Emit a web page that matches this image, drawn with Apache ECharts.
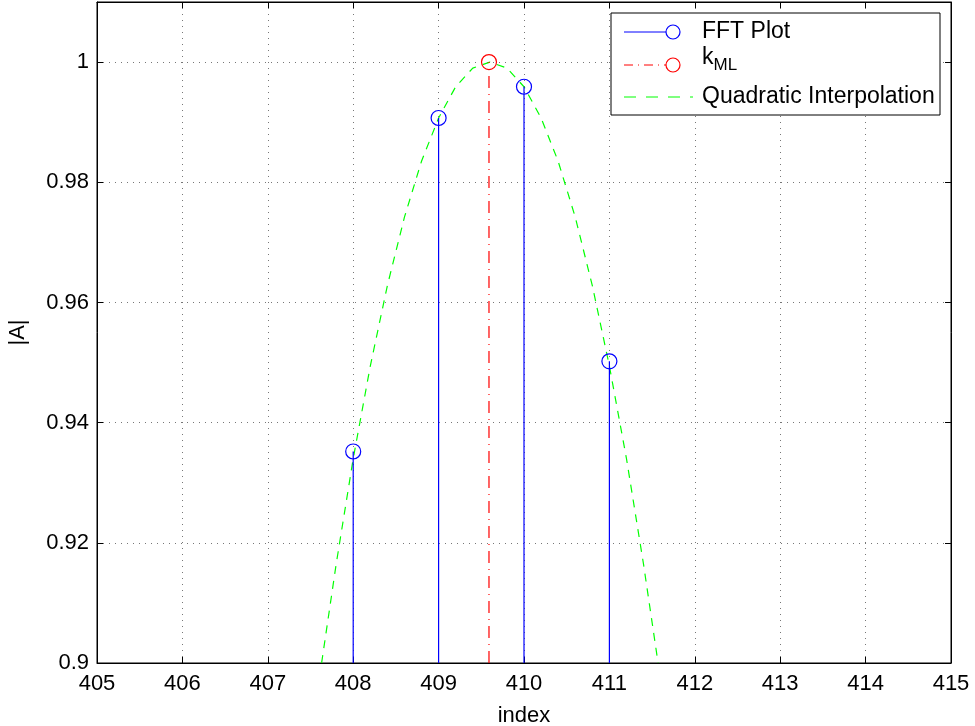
<!DOCTYPE html>
<html>
<head>
<meta charset="utf-8">
<script src="https://cdn.jsdelivr.net/npm/echarts@6/dist/echarts.min.js"></script>
<style>
html,body{margin:0;padding:0;background:#fff;}
#chart{width:975px;height:726px;}
</style>
</head>
<body>
<div id="chart"></div>
<script>
// ---- data ----
var fftIndex = [408, 409, 410, 411];
var fftMag   = [0.9352, 0.9907, 0.9959, 0.9502];
var kmlIndex = [409.59];
var kmlMag   = [1.0];
var quadX = [407.63, 407.8, 408.0, 408.2, 408.4, 408.6, 408.8, 409.0, 409.2, 409.4, 409.6,
             409.8, 410.0, 410.2, 410.4, 410.6, 410.8, 411.0, 411.2, 411.4, 411.57];
var quadY = [0.900, 0.9164, 0.9340, 0.9494, 0.9628, 0.9742, 0.9835, 0.9907, 0.9959, 0.9990, 1.000,
             0.9990, 0.9959, 0.9907, 0.9835, 0.9742, 0.9628, 0.9494, 0.9340, 0.9164, 0.900];
var xMin = 405, xMax = 415, xStep = 1;
var yMin = 0.9, yMax = 1.01, yStep = 0.02;
var legendNames = ['FFT Plot', 'k_ML', 'Quadratic Interpolation'];

var FONT = 'Liberation Sans, Arial, Helvetica, sans-serif';
var FS = 22;
var LFS = 23;

function pairs(xs, ys){ return xs.map(function(x,i){ return [x, ys[i]]; }); }

function stemRender(color, dash){
  return function(params, api){
    var x = api.value(0), y = api.value(1);
    var p0 = api.coord([x, yMin]);
    var p1 = api.coord([x, y]);
    return {
      type: 'group',
      children: [
        {type:'line', shape:{x1:p0[0], y1:p0[1], x2:p1[0], y2:p1[1]},
         style:{stroke:color, lineWidth:1.2, lineDash:dash}},
        {type:'circle', shape:{cx:p1[0], cy:p1[1], r:7.5},
         style:{stroke:color, fill:null, lineWidth:1.2}}
      ]
    };
  };
}

var gridLine = {show:true, lineStyle:{color:'#777', width:1, type:[1,5]}};

var chart = echarts.init(document.getElementById('chart'), null, {renderer:'canvas'});
var option = {
  animation:false,
  backgroundColor:'#fff',
  grid:{left:97, right:24, top:2, bottom:63, show:true, borderColor:'#000', borderWidth:1,
        containLabel:false, outerBoundsMode:'none'},
  xAxis:[{
    type:'value', min:xMin, max:xMax, interval:xStep,
    name:'index', nameLocation:'middle', nameGap:42,
    nameTextStyle:{fontFamily:FONT, fontSize:FS, color:'#000'},
    axisLine:{show:true, lineStyle:{color:'#000'}},
    axisTick:{show:true, inside:true, length:6, lineStyle:{color:'#000'}},
    axisLabel:{fontFamily:FONT, fontSize:FS, color:'#000', margin:10},
    splitLine:gridLine
  },{
    type:'value', position:'top', min:xMin, max:xMax, interval:xStep,
    axisLine:{show:true, lineStyle:{color:'#000'}},
    axisTick:{show:true, inside:true, length:6, lineStyle:{color:'#000'}},
    axisLabel:{show:false}, splitLine:{show:false}
  }],
  yAxis:[{
    type:'value', min:yMin, max:yMax, interval:yStep,
    name:'|A|', nameLocation:'middle', nameGap:68, nameRotate:90,
    nameTextStyle:{fontFamily:FONT, fontSize:FS, color:'#000'},
    axisLine:{show:true, lineStyle:{color:'#000'}},
    axisTick:{show:true, inside:true, length:6, lineStyle:{color:'#000'}},
    axisLabel:{fontFamily:FONT, fontSize:FS, color:'#000', margin:8, showMaxLabel:false,
      formatter:function(v){ return String(parseFloat(v.toFixed(4))); }},
    splitLine:gridLine
  },{
    type:'value', position:'right', min:yMin, max:yMax, interval:yStep,
    axisLine:{show:true, lineStyle:{color:'#000'}},
    axisTick:{show:true, inside:true, length:6, lineStyle:{color:'#000'}},
    axisLabel:{show:false}, splitLine:{show:false}
  }],
  series:[
    {
      name:legendNames[2], type:'line', data:pairs(quadX, quadY),
      showSymbol:false, clip:true, z:3,
      lineStyle:{color:'#00ff00', width:1.2, type:[8,7]}
    },
    {
      name:legendNames[0], type:'custom', data:pairs(fftIndex, fftMag), z:4,
      renderItem:stemRender('#0000ff', null)
    },
    {
      name:legendNames[1], type:'custom', data:pairs(kmlIndex, kmlMag), z:4,
      renderItem:stemRender('#ff0000', [12,6,1,6])
    }
  ],
  graphic:[
    {type:'rect', shape:{x:611, y:13, width:329, height:102}, z:10,
     style:{fill:'#fff', stroke:'#000', lineWidth:1}},
    // FFT Plot
    {type:'line', shape:{x1:624, y1:32, x2:666, y2:32}, z:11, style:{stroke:'#0000ff', lineWidth:1}},
    {type:'circle', shape:{cx:673, cy:32, r:7}, z:11, style:{stroke:'#0000ff', fill:null, lineWidth:1.2}},
    {type:'text', x:702, y:32, z:11, style:{text:legendNames[0], font:LFS+'px '+FONT, fill:'#000', textVerticalAlign:'middle'}},
    // k_ML
    {type:'line', shape:{x1:624, y1:65, x2:666, y2:65}, z:11, style:{stroke:'#ff0000', lineWidth:1, lineDash:[9,5,1,5]}},
    {type:'circle', shape:{cx:673, cy:65, r:7}, z:11, style:{stroke:'#ff0000', fill:null, lineWidth:1.2}},
    {type:'text', x:702, y:58, z:11, style:{text:'{k|k}{s|ML}', fill:'#000',
      rich:{k:{fontSize:LFS, fontFamily:FONT, color:'#000', verticalAlign:'bottom', lineHeight:22},
            s:{fontSize:17, fontFamily:FONT, color:'#000', padding:[14,0,0,0], lineHeight:22}},
      textVerticalAlign:'middle'}},
    // Quadratic
    {type:'line', shape:{x1:624, y1:97, x2:693, y2:97}, z:11, style:{stroke:'#00ff00', lineWidth:1.2, lineDash:[12,10]}},
    {type:'text', x:702, y:97, z:11, style:{text:legendNames[2], font:LFS+'px '+FONT, fill:'#000', textVerticalAlign:'middle'}}
  ]
};
chart.setOption(option);
</script>
</body>
</html>
